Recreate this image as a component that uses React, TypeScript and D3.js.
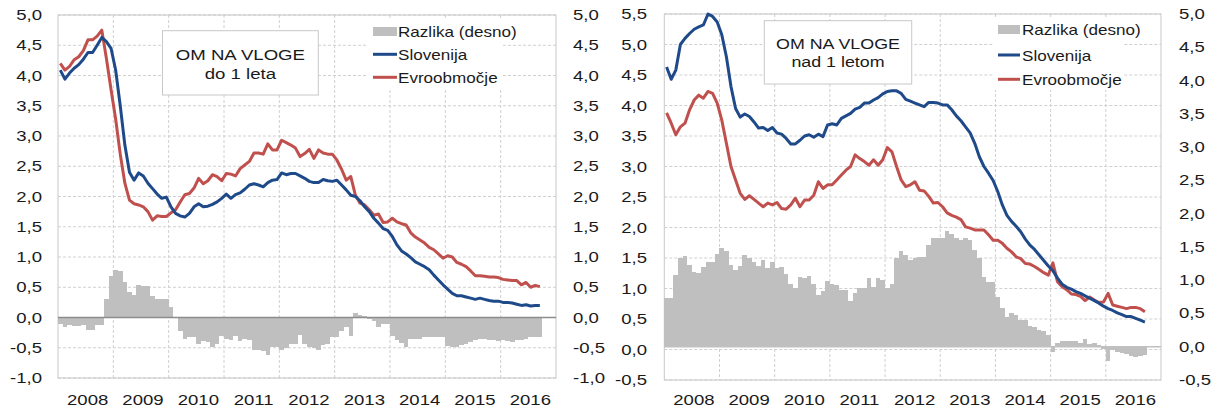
import React from 'react';
import * as d3 from 'd3';

// kategorije: meseci od jan 2008 naprej, na osi samo leta
const years = ['2008', '2009', '2010', '2011', '2012', '2013', '2014', '2015', '2016'];

// OM NA VLOGE do 1 leta
const sloKratke = [
  4.09, 3.94, 4.04, 4.12, 4.18, 4.27, 4.38, 4.38, 4.50, 4.63, 4.56, 4.45,
  4.09, 3.50, 2.85, 2.40, 2.27, 2.39, 2.34, 2.22, 2.13, 2.04, 1.97, 1.99,
  1.83, 1.72, 1.68, 1.66, 1.72, 1.83, 1.88, 1.83, 1.84, 1.87, 1.91, 1.97,
  2.04, 1.97, 2.03, 2.06, 2.12, 2.19, 2.21, 2.19, 2.16, 2.23, 2.27, 2.28,
  2.39, 2.36, 2.38, 2.38, 2.34, 2.30, 2.25, 2.23, 2.23, 2.28, 2.26, 2.25,
  2.27, 2.19, 2.11, 2.02, 2.00, 1.93, 1.83, 1.75, 1.64, 1.56, 1.47, 1.44,
  1.34, 1.20, 1.10, 1.05, 0.99, 0.92, 0.88, 0.84, 0.79, 0.70, 0.62, 0.54,
  0.47, 0.40, 0.36, 0.36, 0.34, 0.32, 0.30, 0.32, 0.30, 0.28, 0.27, 0.27,
  0.25, 0.25, 0.24, 0.22, 0.20, 0.21, 0.19, 0.20, 0.20,
];
const evroKratke = [
  4.20, 4.09, 4.15, 4.26, 4.31, 4.41, 4.59, 4.59, 4.65, 4.75, 4.28, 3.77,
  3.28, 2.70, 2.22, 1.94, 1.88, 1.86, 1.83, 1.75, 1.61, 1.68, 1.67, 1.67,
  1.73, 1.78, 1.91, 2.03, 2.05, 2.14, 2.30, 2.21, 2.26, 2.36, 2.33, 2.26,
  2.38, 2.37, 2.34, 2.46, 2.52, 2.58, 2.72, 2.72, 2.70, 2.87, 2.77, 2.77,
  2.93, 2.89, 2.85, 2.80, 2.66, 2.71, 2.78, 2.63, 2.77, 2.72, 2.70, 2.70,
  2.60, 2.45, 2.27, 2.33, 2.02, 1.89, 1.86, 1.78, 1.69, 1.71, 1.57, 1.58,
  1.64, 1.58, 1.55, 1.53, 1.40, 1.33, 1.28, 1.23, 1.16, 1.12, 1.05, 0.98,
  1.02, 1.00, 0.91, 0.88, 0.84, 0.77, 0.69, 0.69, 0.68, 0.67, 0.67, 0.66,
  0.63, 0.62, 0.61, 0.61, 0.54, 0.58, 0.50, 0.53, 0.51,
];
const razlikaKratke = [
  -0.11, -0.15, -0.13, -0.14, -0.14, -0.13, -0.21, -0.20, -0.13, -0.13, 0.30, 0.68,
  0.79, 0.77, 0.59, 0.42, 0.38, 0.53, 0.52, 0.52, 0.35, 0.30, 0.31, 0.31,
  0.17, 0.00, -0.22, -0.35, -0.32, -0.32, -0.44, -0.39, -0.40, -0.48, -0.44, -0.31,
  -0.35, -0.37, -0.31, -0.39, -0.36, -0.37, -0.53, -0.54, -0.55, -0.62, -0.49, -0.48,
  -0.53, -0.51, -0.44, -0.44, -0.29, -0.43, -0.48, -0.50, -0.53, -0.46, -0.44, -0.32,
  -0.32, -0.22, -0.15, -0.31, 0.08, 0.04, 0.02, -0.02, -0.05, -0.15, -0.11, -0.11,
  -0.31, -0.37, -0.42, -0.48, -0.36, -0.35, -0.36, -0.33, -0.33, -0.32, -0.32, -0.33,
  -0.47, -0.48, -0.48, -0.46, -0.44, -0.40, -0.37, -0.36, -0.36, -0.38, -0.38, -0.39,
  -0.38, -0.39, -0.40, -0.38, -0.38, -0.36, -0.32, -0.32, -0.33,
];

// OM NA VLOGE nad 1 letom
const sloDolge = [
  4.63, 4.43, 4.58, 5.00, 5.10, 5.18, 5.25, 5.29, 5.32, 5.50, 5.46, 5.37,
  5.16, 4.80, 4.31, 3.95, 3.81, 3.86, 3.82, 3.73, 3.63, 3.64, 3.59, 3.64,
  3.55, 3.53, 3.46, 3.37, 3.37, 3.43, 3.50, 3.52, 3.48, 3.53, 3.49, 3.68,
  3.70, 3.68, 3.79, 3.83, 3.87, 3.94, 3.97, 4.04, 4.04, 4.09, 4.13, 4.19,
  4.23, 4.24, 4.24, 4.20, 4.10, 4.07, 4.04, 4.01, 3.98, 4.05, 4.05, 4.04,
  4.01, 4.01, 3.93, 3.83, 3.75, 3.65, 3.55, 3.38, 3.16, 3.00, 2.89, 2.77,
  2.59, 2.37, 2.20, 2.10, 2.02, 1.93, 1.81, 1.71, 1.64, 1.55, 1.46, 1.37,
  1.29, 1.17, 1.07, 1.02, 0.99, 0.95, 0.92, 0.88, 0.84, 0.80, 0.76, 0.71,
  0.67, 0.64, 0.60, 0.57, 0.54, 0.54, 0.51, 0.48, 0.45,
];
const evroDolge = [
  3.88, 3.71, 3.52, 3.65, 3.71, 3.93, 4.09, 4.17, 4.12, 4.23, 4.20, 4.04,
  3.76, 3.38, 3.00, 2.78, 2.56, 2.46, 2.52, 2.46, 2.40, 2.34, 2.40, 2.37,
  2.41, 2.31, 2.30, 2.37, 2.48, 2.34, 2.45, 2.45, 2.53, 2.75, 2.64, 2.70,
  2.70, 2.78, 2.86, 2.94, 3.00, 3.19, 3.13, 3.08, 3.02, 3.11, 3.02, 3.11,
  3.31, 3.24, 3.00, 2.78, 2.67, 2.70, 2.75, 2.61, 2.60, 2.51, 2.40, 2.41,
  2.34, 2.24, 2.20, 2.17, 2.13, 2.01, 1.99, 1.96, 1.96, 1.96, 1.88, 1.79,
  1.79, 1.74, 1.66, 1.60, 1.52, 1.49, 1.41, 1.40, 1.36, 1.31, 1.26, 1.22,
  1.42, 1.11, 1.03, 0.98, 0.91, 0.90, 0.87, 0.80, 0.86, 0.81, 0.77, 0.78,
  0.92, 0.73, 0.71, 0.69, 0.67, 0.69, 0.69, 0.67, 0.62,
];
const razlikaDolge = [
  0.73, 0.73, 1.08, 1.34, 1.36, 1.23, 1.13, 1.11, 1.20, 1.28, 1.28, 1.39,
  1.48, 1.44, 1.23, 1.16, 1.21, 1.38, 1.33, 1.28, 1.21, 1.31, 1.18, 1.28,
  1.18, 1.20, 1.10, 0.95, 0.88, 1.05, 1.03, 1.06, 0.94, 0.78, 0.84, 0.99,
  0.94, 0.93, 0.85, 0.85, 0.69, 0.81, 0.88, 0.89, 1.03, 0.90, 1.04, 1.01,
  0.88, 0.94, 1.33, 1.44, 1.38, 1.30, 1.33, 1.35, 1.35, 1.53, 1.64, 1.64,
  1.64, 1.74, 1.69, 1.64, 1.60, 1.64, 1.60, 1.46, 1.33, 1.05, 0.98, 0.98,
  0.75, 0.58, 0.45, 0.51, 0.48, 0.40, 0.40, 0.31, 0.30, 0.25, 0.23, 0.18,
  -0.08, 0.06, 0.08, 0.08, 0.09, 0.08, 0.05, 0.11, 0.04, 0.05, 0.03, -0.04,
  -0.21, -0.05, -0.08, -0.09, -0.11, -0.14, -0.15, -0.14, -0.13,
];

// oznake na oseh
const ticksKratke = [-1.0, -0.5, 0.0, 0.5, 1.0, 1.5, 2.0, 2.5, 3.0, 3.5, 4.0, 4.5, 5.0];
const ticksDolgeLevo = [-0.5, 0.0, 0.5, 1.0, 1.5, 2.0, 2.5, 3.0, 3.5, 4.0, 4.5, 5.0, 5.5];
const ticksDolgeDesno = [-0.5, 0.0, 0.5, 1.0, 1.5, 2.0, 2.5, 3.0, 3.5, 4.0, 4.5, 5.0];

const legendNames = ['Razlika (desno)', 'Slovenija', 'Evroobmočje'];

const BLUE = '#1f4a8a';
const RED = '#c0504d';
const GRAY = '#bfbfbf';
const FONT = "'Liberation Sans', Arial, sans-serif";

const fmt = (v: number) => v.toFixed(1).replace('.', ',');

// besedilo je na sliki vodoravno raztegnjeno
const SText = ({x, y, size, sx, anchor = 'start', children}: any) => (
  <g transform={`translate(${x},${y}) scale(${sx},1)`}>
    <text x={0} y={0} fontSize={size} textAnchor={anchor} fontFamily={FONT} fill="#1a1a1a">
      {children}
    </text>
  </g>
);

interface PanelProps {
  slo: number[];
  evro: number[];
  razlika: number[];
  x0: number; x1: number; y0: number; y1: number;
  leftTicks: number[];
  rightTicks: number[];
  leftLabelX: number;
  rightLabelX: number;
  zeroColor: string;
  title: string[];
  box: number[]; // x, y, w, h
  titleY: number[];
  titleSize: number;
  titleSx: number;
  leg: {x: number; rows: number[]; sw: number; textX: number; bgTop: number; bgW1: number; bgW2: number; bgBottom: number};
}

const Panel = (p: PanelProps) => {
  const nMonths = years.length * 12;
  const x = d3.scaleLinear().domain([0, nMonths]).range([p.x0, p.x1]);
  const yL = d3.scaleLinear()
    .domain([p.leftTicks[0], p.leftTicks[p.leftTicks.length - 1]])
    .range([p.y1, p.y0]);
  const yR = d3.scaleLinear()
    .domain([p.rightTicks[0], p.rightTicks[p.rightTicks.length - 1]])
    .range([p.y1, p.y0]);

  const myLine = d3.line<number>()
    .x((d, i) => x(i + 0.5))
    .y((d) => yL(d));

  const L = p.leg;
  const mid = (L.rows[0] + L.rows[1]) / 2;

  return (
    <g>
      {/* mreža */}
      {p.leftTicks.map((t) => (
        <line key={'h' + t} x1={p.x0} x2={p.x1} y1={yL(t)} y2={yL(t)}
          stroke="#d0d0d0" strokeDasharray="3,2" strokeWidth={1} />
      ))}
      {years.slice(1).map((yr, k) => (
        <line key={'v' + yr} x1={x((k + 1) * 12)} x2={x((k + 1) * 12)} y1={p.y0} y2={p.y1}
          stroke="#d0d0d0" strokeDasharray="3,2" strokeWidth={1} />
      ))}
      <rect x={p.x0} y={p.y0} width={p.x1 - p.x0} height={p.y1 - p.y0}
        fill="none" stroke="#c8c8c8" strokeWidth={1} />

      {/* ozadje legende */}
      <rect x={L.x - 5} y={L.bgTop} width={L.bgW1} height={mid - L.bgTop} fill="#fff" />
      <rect x={L.x - 5} y={mid} width={L.bgW2} height={L.bgBottom - mid} fill="#fff" />

      {/* stolpci razlike (desna os) */}
      <g shapeRendering="crispEdges">
        {p.razlika.map((v, i) => {
          const a = Math.round(x(i));
          const b = Math.round(x(i + 1));
          return (
            <rect key={'b' + i} x={a} width={b - a}
              y={yR(Math.max(0, v))} height={Math.abs(yR(v) - yR(0))} fill={GRAY} />
          );
        })}
      </g>
      <line x1={p.x0} x2={p.x1} y1={yR(0)} y2={yR(0)} stroke={p.zeroColor} strokeWidth={1.3} />

      <path d={myLine(p.evro) || ''} fill="none" stroke={RED} strokeWidth={3} strokeLinejoin="round" />
      <path d={myLine(p.slo) || ''} fill="none" stroke={BLUE} strokeWidth={3} strokeLinejoin="round" />

      {/* naslov v okvirju */}
      <rect x={p.box[0]} y={p.box[1]} width={p.box[2]} height={p.box[3]} fill="#fff" stroke="#c8c8c8" strokeWidth={1} />
      {p.title.map((t, k) => (
        <SText key={t} x={p.box[0] + p.box[2] / 2} y={p.titleY[k]} size={p.titleSize} sx={p.titleSx} anchor="middle">{t}</SText>
      ))}

      {/* legenda */}
      <rect x={L.x} y={L.rows[0] - 4.5} width={L.sw} height={9} fill={GRAY} />
      <line x1={L.x} x2={L.x + L.sw} y1={L.rows[1]} y2={L.rows[1]} stroke={BLUE} strokeWidth={3} />
      <line x1={L.x} x2={L.x + L.sw} y1={L.rows[2]} y2={L.rows[2]} stroke={RED} strokeWidth={3} />
      {legendNames.map((n, k) => (
        <SText key={n} x={L.textX} y={L.rows[k] + 5.5} size={14} sx={1.22}>{n}</SText>
      ))}

      {/* osi */}
      {p.leftTicks.map((t) => (
        <SText key={'l' + t} x={p.leftLabelX} y={yL(t) + 5} size={14.5} sx={1.28} anchor="end">{fmt(t)}</SText>
      ))}
      {p.rightTicks.map((t) => (
        <SText key={'r' + t} x={p.rightLabelX} y={yR(t) + 5} size={14.5} sx={1.28}>{fmt(t)}</SText>
      ))}
      {years.map((yr, k) => (
        <SText key={yr} x={x(k * 12 + 6) + 2} y={405} size={14.5} sx={1.28} anchor="middle">{yr}</SText>
      ))}
    </g>
  );
};

const App = () => {
  return (
    <svg width={1219} height={412} viewBox="0 0 1219 412"
      style={{position: 'absolute', left: 0, top: 0, background: '#fff'}}>
      <rect x={0} y={0} width={1219} height={412} fill="#fff" />
      <Panel
        slo={sloKratke} evro={evroKratke} razlika={razlikaKratke}
        x0={58} x1={556} y0={15} y1={378}
        leftTicks={ticksKratke} rightTicks={ticksKratke}
        leftLabelX={42} rightLabelX={573}
        zeroColor="#8c8c8c"
        title={['OM NA VLOGE', 'do 1 leta']}
        box={[162.5, 30.7, 155.8, 64.3]} titleY={[60, 79]} titleSize={15.5} titleSx={1.2}
        leg={{x: 373, rows: [31.5, 54.3, 77.3], sw: 24, textX: 398, bgTop: 19, bgW1: 150, bgW2: 134, bgBottom: 88}}
      />
      <Panel
        slo={sloDolge} evro={evroDolge} razlika={razlikaDolge}
        x0={664.3} x1={1161} y0={14} y1={380}
        leftTicks={ticksDolgeLevo} rightTicks={ticksDolgeDesno}
        leftLabelX={647} rightLabelX={1179}
        zeroColor="#c0c0c0"
        title={['OM NA VLOGE', 'nad 1 letom']}
        box={[764.3, 20.7, 147.4, 63.3]} titleY={[49, 67]} titleSize={15} titleSx={1.19}
        leg={{x: 998, rows: [29.5, 55, 79.3], sw: 22, textX: 1022, bgTop: 18, bgW1: 150, bgW2: 130, bgBottom: 90}}
      />
    </svg>
  );
};

export default App;
